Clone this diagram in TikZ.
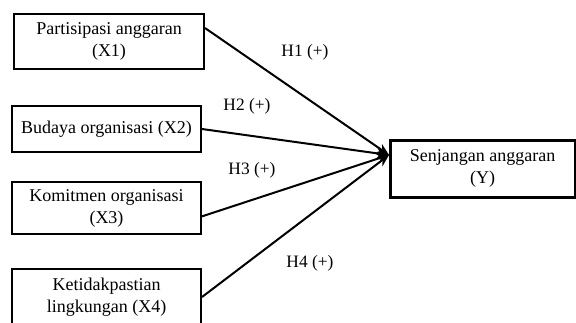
\documentclass[tikz,border=0pt]{standalone}
\usepackage{fontspec}
\setmainfont{Liberation Serif}
\usetikzlibrary{arrows.meta}
\tikzstyle{fVariable} = [rectangle, draw=black, line width=1pt, text centered, align=center, font=\fontsize{9}{11}\selectfont]
\tikzstyle{fTarget} = [rectangle, draw=black, line width=1.5pt, text centered, align=center, font=\fontsize{9}{11}\selectfont]
\tikzstyle{fHypo} = [font=\fontsize{8.7}{10}\selectfont]
\tikzstyle{fArrow} = [line width=1pt, -{Stealth[length=6pt, width=5pt]}]

\begin{document}
\begin{tikzpicture}[x=0.5pt, y=-0.5pt]
    \clip (0,0) rectangle (576,322);
    \node (X1) [fVariable, minimum width=95pt, minimum height=27.5pt] at (109,41.5) {Partisipasi anggaran\\(X1)};
    \node (X2) [fVariable, minimum width=94.5pt, minimum height=23pt] at (106.5,129) {Budaya organisasi (X2)};
    \node (X3) [fVariable, minimum width=94.5pt, minimum height=25pt] at (106.5,208) {Komitmen organisasi\\(X3)};
    \node (X4) [fVariable, minimum width=94.5pt, minimum height=28pt] at (106.5,297) {Ketidakpastian\\lingkungan (X4)};
    \node (Y) [fTarget, minimum width=92.5pt, minimum height=28.5pt] at (482.5,168.5) {Senjangan anggaran\\(Y)};
    \coordinate (hub) at (389,155);

    \node (h1) [fHypo] at (305,52) {H1 (+)};
    \node (h2) [fHypo] at (247,106) {H2 (+)};
    \node (h3) [fHypo] at (252,170) {H3 (+)};
    \node (h4) [fHypo] at (310,263) {H4 (+)};

    \draw [fArrow] (X1.8) -- (hub);
    \draw [fArrow] (X2.east) -- (hub);
    \draw [fArrow] (X3.-5) -- (hub);
    \draw [fArrow] (X4.east) -- (hub);
\end{tikzpicture}
\end{document}
